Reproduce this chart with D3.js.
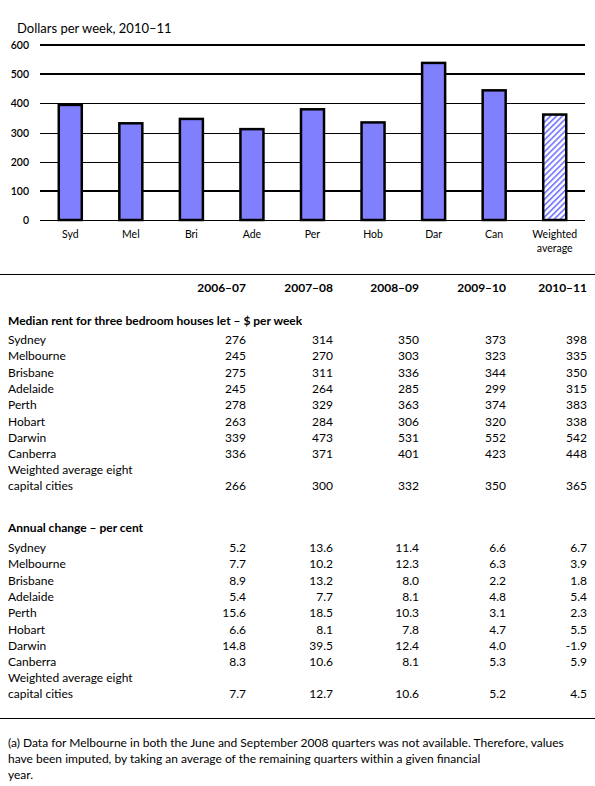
<!DOCTYPE html>
<html>
<head>
<meta charset="utf-8">
<script src="https://cdn.jsdelivr.net/npm/d3@7"></script>
<style>
html,body{margin:0;padding:0;background:#fff;}
svg{display:block;font-family:Lato,"Open Sans",sans-serif;}
</style>
</head>
<body>
<svg id="c" width="595" height="786"></svg>
<script>
// ---- data ----
const chartTitle = "Dollars per week, 2010–11";
const barLabels = ["Syd","Mel","Bri","Ade","Per","Hob","Dar","Can","Weighted average"];
const barValues = [398,335,350,315,383,338,542,448,365];
const yTicks = [0,100,200,300,400,500,600];
const thickTicks = [100,500,600];

const years = ["2006–07","2007–08","2008–09","2009–10","2010–11"];
const cities = ["Sydney","Melbourne","Brisbane","Adelaide","Perth","Hobart","Darwin","Canberra"];
const avgLabel = ["Weighted average eight","capital cities"];

const rentSydney    = [276,314,350,373,398];
const rentMelbourne = [245,270,303,323,335];
const rentBrisbane  = [275,311,336,344,350];
const rentAdelaide  = [245,264,285,299,315];
const rentPerth     = [278,329,363,374,383];
const rentHobart    = [263,284,306,320,338];
const rentDarwin    = [339,473,531,552,542];
const rentCanberra  = [336,371,401,423,448];
const rentAverage   = [266,300,332,350,365];

const chgSydney    = ["5.2","13.6","11.4","6.6","6.7"];
const chgMelbourne = ["7.7","10.2","12.3","6.3","3.9"];
const chgBrisbane  = ["8.9","13.2","8.0","2.2","1.8"];
const chgAdelaide  = ["5.4","7.7","8.1","4.8","5.4"];
const chgPerth     = ["15.6","18.5","10.3","3.1","2.3"];
const chgHobart    = ["6.6","8.1","7.8","4.7","5.5"];
const chgDarwin    = ["14.8","39.5","12.4","4.0","-1.9"];
const chgCanberra  = ["8.3","10.6","8.1","5.3","5.9"];
const chgAverage   = ["7.7","12.7","10.6","5.2","4.5"];

const section1 = "Median rent for three bedroom houses let – $ per week";
const section2 = "Annual change – per cent";
const footnote = [
  "(a) Data for Melbourne in both the June and September 2008 quarters was not available. Therefore, values",
  "have been imputed, by taking an average of the remaining quarters within a given financial",
  "year."
];

const rentRows = [rentSydney,rentMelbourne,rentBrisbane,rentAdelaide,rentPerth,rentHobart,rentDarwin,rentCanberra];
const chgRows  = [chgSydney,chgMelbourne,chgBrisbane,chgAdelaide,chgPerth,chgHobart,chgDarwin,chgCanberra];

// ---- chart ----
const svg = d3.select("#c");
const fs = 12;

svg.append("text").attr("x",17).attr("y",33).attr("font-size",13).attr("fill","#000").text(chartTitle);

const x = d3.scaleBand().domain(barLabels).range([40,585]).paddingInner(0.587).paddingOuter(0.2935);
const y = d3.scaleLinear().domain([0,600]).range([220,45]);

const defs = svg.append("defs");
const pat = defs.append("pattern").attr("id","hatch").attr("patternUnits","userSpaceOnUse")
  .attr("width",4.2).attr("height",4.2).attr("patternTransform","rotate(45)");
pat.append("rect").attr("width",4.2).attr("height",4.2).attr("fill","#fff");
pat.append("rect").attr("width",1.8).attr("height",4.2).attr("fill","#8080FF");

const g = svg.append("g");
g.selectAll("line.grid").data(yTicks).join("line")
  .attr("x1",40).attr("x2",585)
  .attr("y1",d=>Math.round(y(d))+ (thickTicks.includes(d)?0:0.5))
  .attr("y2",d=>Math.round(y(d))+ (thickTicks.includes(d)?0:0.5))
  .attr("stroke","#000")
  .attr("stroke-width",d=>thickTicks.includes(d)?2:1);

g.selectAll("text.yt").data(yTicks).join("text")
  .attr("x",29).attr("y",d=>y(d)+4).attr("text-anchor","end")
  .attr("font-size",10.5).attr("font-weight",600).text(d=>d);

g.selectAll("rect.bar").data(barValues).join("rect")
  .attr("x",(d,i)=>x(barLabels[i])+1)
  .attr("width",x.bandwidth()-2)
  .attr("y",d=>y(d)+1)
  .attr("height",d=>y(0)-y(d)-1)
  .attr("fill",(d,i)=>i===barValues.length-1?"url(#hatch)":"#8080FF")
  .attr("stroke","#000").attr("stroke-width",2.5);

barLabels.forEach((lab,i)=>{
  const cx = x(lab)+x.bandwidth()/2;
  const parts = lab==="Weighted average" ? ["Weighted","average"] : [lab];
  parts.forEach((p,j)=>{
    svg.append("text").attr("x",cx).attr("y",238+j*14).attr("text-anchor","middle")
      .attr("font-size",10.5).text(p);
  });
});

// ---- table ----
const colRight = [246,333,419,506,587];
const labelX = 8;

svg.append("line").attr("x1",0).attr("x2",595).attr("y1",274.5).attr("y2",274.5).attr("stroke","#000").attr("stroke-width",1);
svg.append("line").attr("x1",0).attr("x2",595).attr("y1",718.5).attr("y2",718.5).attr("stroke","#000").attr("stroke-width",1);

svg.selectAll("text.yr").data(years).join("text")
  .attr("x",(d,i)=>colRight[i]).attr("y",292).attr("text-anchor","end")
  .attr("font-size",fs).attr("font-weight","bold").text(d=>d);

function section(title, titleY, rows, avg, startY){
  svg.append("text").attr("x",labelX).attr("y",titleY).attr("font-size",fs).attr("font-weight","bold").text(title);
  const step = 16.3;
  rows.forEach((vals,r)=>{
    const yy = startY + r*step;
    svg.append("text").attr("x",labelX).attr("y",yy).attr("font-size",fs).text(cities[r]);
    vals.forEach((v,c)=>{
      svg.append("text").attr("x",colRight[c]).attr("y",yy).attr("text-anchor","end").attr("font-size",fs).text(v);
    });
  });
  const ya = startY + rows.length*step;
  svg.append("text").attr("x",labelX).attr("y",ya).attr("font-size",fs).text(avgLabel[0]);
  svg.append("text").attr("x",labelX).attr("y",ya+15.5).attr("font-size",fs).text(avgLabel[1]);
  avg.forEach((v,c)=>{
    svg.append("text").attr("x",colRight[c]).attr("y",ya+15.5).attr("text-anchor","end").attr("font-size",fs).text(v);
  });
}
section(section1, 325, rentRows, rentAverage, 344);
section(section2, 532, chgRows, chgAverage, 552);

footnote.forEach((t,i)=>{
  svg.append("text").attr("x",labelX).attr("y",747+i*16).attr("font-size",fs).text(t);
});
</script>
</body>
</html>
